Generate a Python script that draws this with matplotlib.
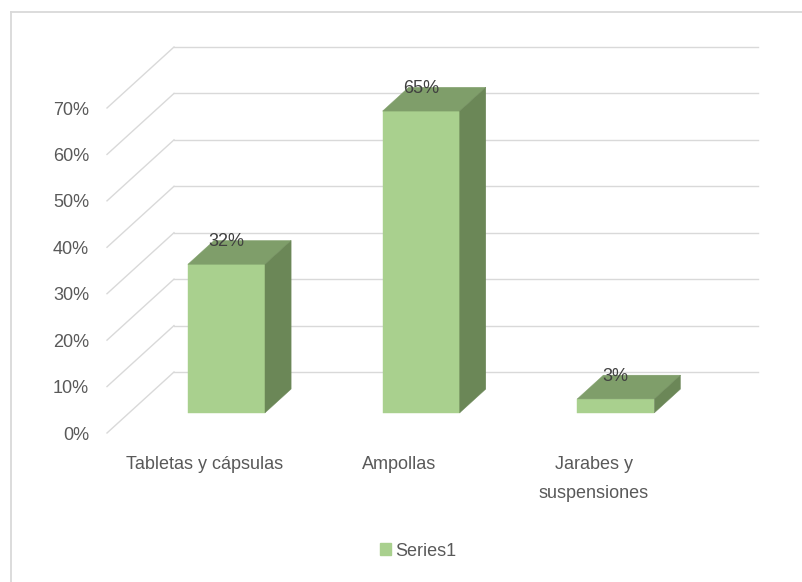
import matplotlib
matplotlib.use('Agg')
import matplotlib.pyplot as plt
from matplotlib.patches import Polygon, Patch
from matplotlib.lines import Line2D
from matplotlib.transforms import IdentityTransform
from matplotlib import font_manager
import numpy as np

# ---- data ----
categories = ["Tabletas y cápsulas", "Ampollas", "Jarabes y\nsuspensiones"]
values = [32, 65, 3]
yticks = [0, 10, 20, 30, 40, 50, 60, 70]
ytick_labels = [f"{t}%" for t in yticks]
series_name = "Series1"

# ---- style ----
available = {f.name for f in font_manager.fontManager.ttflist}
fams = [f for f in ['Liberation Sans Narrow', 'Liberation Sans', 'DejaVu Sans'] if f in available]
plt.rcParams['font.family'] = fams
FS = 13 if fams[0] != 'Liberation Sans Narrow' else 15
TXT = '#595959'
LBL = '#404040'
GRID = '#D9D9D9'
FRONT = '#A9D08E'
TOP = '#7F9E6A'
SIDE = '#6B8757'

W, H = 803, 582
fig = plt.figure(figsize=(W / 100, H / 100), dpi=100)
ax = fig.add_axes([107 / W, 149 / H, (691 - 107) / W, (474 - 149) / H])
ax.set_xlim(-0.5, len(categories) - 0.5)
ax.set_ylim(0, 70)
ax.axis('off')

DEPTH = np.array([67.0, 61.0])
F0, F1 = 0.33, 0.72
BAR_W = 0.396


def disp(x, y, f=0.0, dx=0.0, dy=0.0):
    p = ax.transData.transform((x, y))
    return p + DEPTH * f + np.array([dx, dy])


def poly(pts, color, z):
    fig.add_artist(Polygon(np.array(pts), closed=True, facecolor=color,
                           edgecolor=color, lw=0.3, transform=IdentityTransform(),
                           zorder=z))


def line(p0, p1, z=1):
    fig.add_artist(Line2D([p0[0], p1[0]], [p0[1], p1[1]], color=GRID, lw=1.0,
                          transform=IdentityTransform(), zorder=z))


xmin, xmax = ax.get_xlim()
# walls / gridlines
for t, lab in zip(yticks, ytick_labels):
    line(disp(xmin, t, 1), disp(xmax, t, 1))
    line(disp(xmin, t, 0), disp(xmin, t, 1))
    p = disp(xmin, t, 0, dx=-18, dy=-2)
    fig.text(p[0] / W, p[1] / H, lab, ha='right', va='center', fontsize=FS, color=TXT)

# bars
for i, v in enumerate(values):
    x0, x1 = i - BAR_W / 2, i + BAR_W / 2
    poly([disp(x0, 0, F0), disp(x1, 0, F0), disp(x1, v, F0), disp(x0, v, F0)], FRONT, 3)
    poly([disp(x0, v, F0), disp(x1, v, F0), disp(x1, v, F1), disp(x0, v, F1)], TOP, 3)
    poly([disp(x1, 0, F0), disp(x1, 0, F1), disp(x1, v, F1), disp(x1, v, F0)], SIDE, 3)
    p = disp(i, v, 0, dx=DEPTH[0] * F0, dy=DEPTH[1] * F1 - 1)
    fig.text(p[0] / W, p[1] / H, f"{v}%", ha='center', va='center', fontsize=FS,
             color=LBL, zorder=5)

# category labels
for i, c in enumerate(categories):
    p = disp(i, 0, 0, dy=-23)
    fig.text(p[0] / W, p[1] / H, c, ha='center', va='top', fontsize=FS, color=TXT,
             linespacing=1.9)

# legend
fig.legend(handles=[Patch(facecolor=FRONT, edgecolor=FRONT)], labels=[series_name],
           loc='center', bbox_to_anchor=(418 / W, 1 - 551 / H), frameon=False,
           handlelength=0.6, handleheight=0.65, handletextpad=0.25, fontsize=FS,
           labelcolor=TXT)

# outer border (partially cropped)
fig.add_artist(Line2D([11 / W, 1], [1 - 12 / H, 1 - 12 / H], transform=fig.transFigure,
                      color=GRID, lw=1.3))
fig.add_artist(Line2D([11 / W, 11 / W], [1 - 12 / H, 0], transform=fig.transFigure,
                      color=GRID, lw=1.3))

fig.savefig('out.png', dpi=100, facecolor='white')
